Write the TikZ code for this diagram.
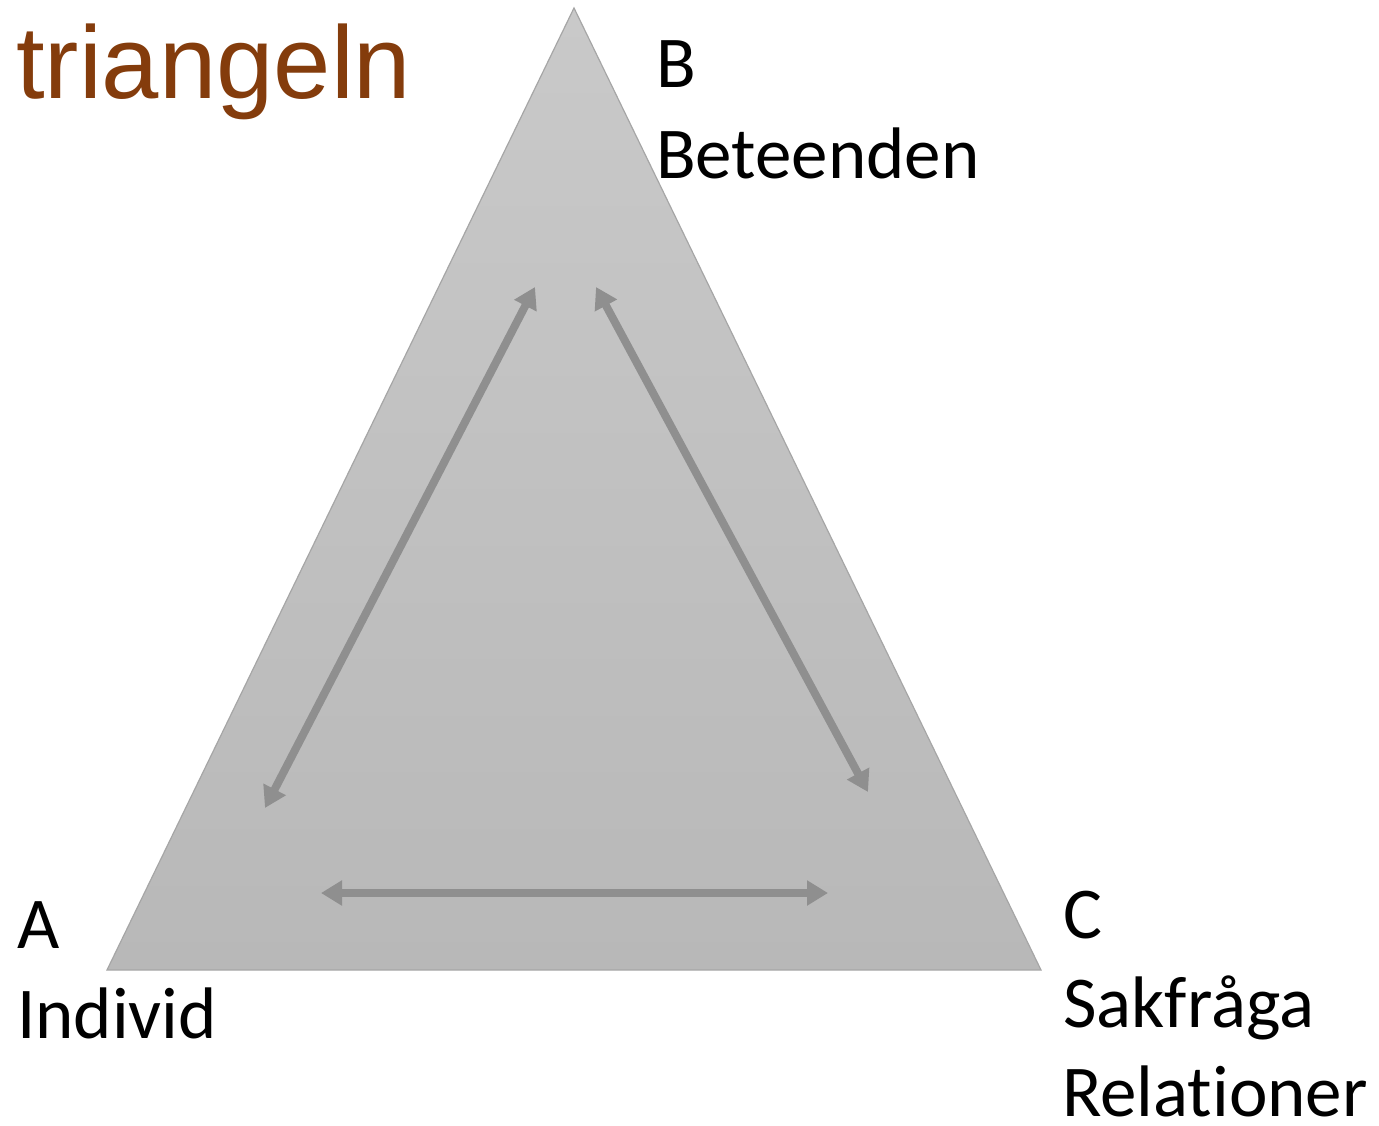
\documentclass[tikz,border=0pt]{standalone}
\usepackage{fontspec}
\setmainfont{Carlito}[Ligatures={NoCommon}]
\newfontfamily\titlefont{Liberation Sans}
\usetikzlibrary{arrows.meta}
\definecolor{titlebrown}{HTML}{843C0C}
\definecolor{arrowgray}{HTML}{8F8F8F}
\definecolor{tritop}{HTML}{C9C9C9}
\definecolor{tribot}{HTML}{B8B8B8}
\definecolor{triedge}{HTML}{A6A6A6}
\tikzset{
  lbl/.style={anchor=base west, inner sep=0pt, font=\fontsize{73}{86}\selectfont, text=black},
  dbl/.style={draw=arrowgray, line width=8pt, {Triangle[width=24pt,length=21pt]}-{Triangle[width=24pt,length=21pt]}}
}
\begin{document}
\begin{tikzpicture}[x=1pt,y=-1pt]
\useasboundingbox (0,0) rectangle (1379,1125);
\coordinate (tA) at (107,970);
\coordinate (tB) at (574,8);
\coordinate (tC) at (1041,970);
\shade[top color=tritop, bottom color=tribot, draw=triedge, line width=1.2pt] (tA) -- (tB) -- (tC) -- cycle;
% arrows
\coordinate (l1) at (535,287);
\coordinate (l2) at (265,808);
\coordinate (r1) at (596,287);
\coordinate (r2) at (868,792);
\coordinate (b1) at (321,893);
\coordinate (b2) at (828,893);
\draw[dbl] (l1) -- (l2);
\draw[dbl] (r1) -- (r2);
\draw[dbl] (b1) -- (b2);
% title
\node[anchor=base west, inner sep=0pt, text=titlebrown, font=\titlefont\fontsize{103}{115}\selectfont] (title) at (16,98) {triangeln};
% labels
\node[lbl] (Blbl) at (656,87) {B};
\node[lbl] (Bname) at (656,178) {Beteenden};
\node[lbl] (Albl) at (17,948) {A};
\node[lbl] (Aname) at (17,1038) {Individ};
\node[lbl] (Clbl) at (1063,938) {C};
\node[lbl] (Cname) at (1063,1027) {Sakfråga};
\node[lbl, text depth=0pt] (Cname2) at (1062,1116) {Relationer};
\end{tikzpicture}
\end{document}
